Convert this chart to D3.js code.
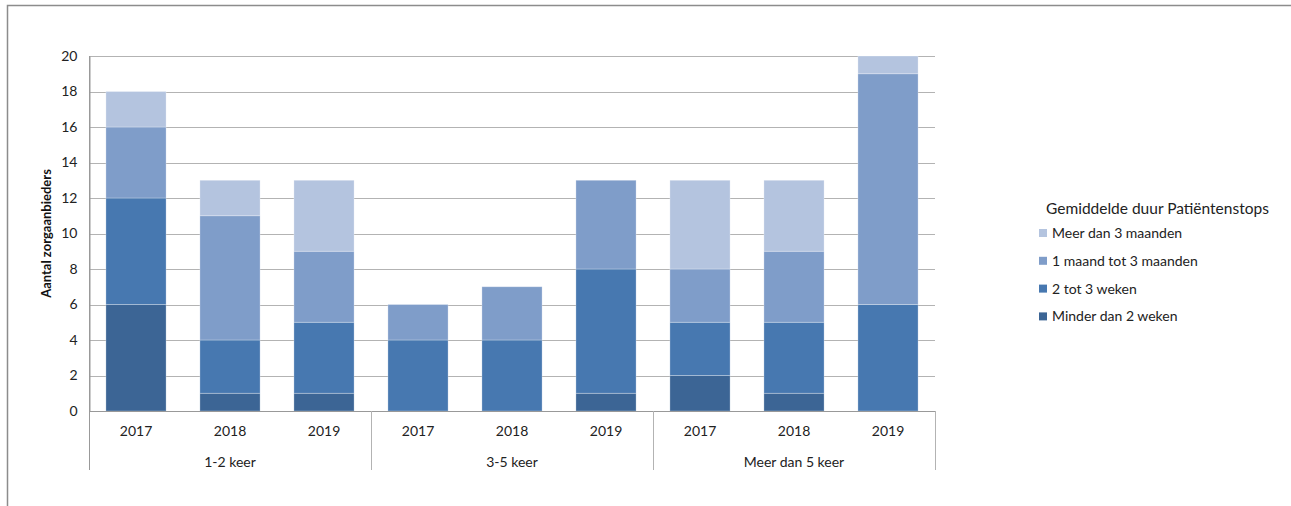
<!DOCTYPE html>
<html><head><meta charset="utf-8">
<script src="https://cdn.jsdelivr.net/npm/d3@7"></script>
<style>body{margin:0;background:#fff;} svg{display:block;font-family:Lato,"Open Sans",sans-serif;}</style>
</head><body>
<svg id="c" width="1291" height="506"></svg>
<script>
const groups = ["1-2 keer","3-5 keer","Meer dan 5 keer"];
const years = ["2017","2018","2019"];
const seriesNames = ["Minder dan 2 weken","2 tot 3 weken","1 maand tot 3 maanden","Meer dan 3 maanden"];
const seriesColors = ["#3C6595","#4778B0","#7F9DC9","#B4C4DF"];
// values per bar in order: 1-2 keer 2017..2019, 3-5 keer 2017..2019, Meer dan 5 keer 2017..2019
const minder2weken   = [6,1,1, 0,0,1, 2,1,0];
const tot3weken      = [6,3,4, 4,4,7, 3,4,6];
const maandTot3      = [4,7,4, 2,3,5, 3,4,13];
const meerDan3maand  = [2,2,4, 0,0,0, 5,4,1];
const yTicks = [0,2,4,6,8,10,12,14,16,18,20];

const svg = d3.select("#c");
const x0 = 89, x1 = 935, yTop = 56, yBot = 411;

const bars = [];
groups.forEach((g,gi)=>years.forEach((yr,yi)=>bars.push({key:g+"|"+yr, group:g, year:yr, i:gi*3+yi})));
const table = bars.map(b=>({key:b.key, s0:minder2weken[b.i], s1:tot3weken[b.i], s2:maandTot3[b.i], s3:meerDan3maand[b.i]}));

const x = d3.scaleBand().domain(bars.map(b=>b.key)).range([x0,x1]).paddingInner(0.36).paddingOuter(0.18);
const y = d3.scaleLinear().domain([0,20]).range([yBot,yTop]);

// frame
svg.append("path").attr("d","M7.5,506 V5.5 H1291").attr("fill","none").attr("stroke","#8c8c8c").attr("stroke-width",1.5);

// gridlines
svg.append("g").selectAll("line").data(yTicks.filter(t=>t>0)).join("line")
  .attr("x1",x0).attr("x2",x1).attr("y1",d=>Math.round(y(d))+0.5).attr("y2",d=>Math.round(y(d))+0.5)
  .attr("stroke","#b3b3b3").attr("stroke-width",1);

// stacked bars
const stack = d3.stack().keys(["s0","s1","s2","s3"]);
const stacked = stack(table);
svg.append("g").selectAll("g").data(stacked).join("g")
  .attr("fill",(d,i)=>seriesColors[i])
  .selectAll("rect").data(d=>d.filter(p=>p[1]-p[0]>0)).join("rect")
  .attr("x",d=>x(d.data.key)).attr("width",x.bandwidth())
  .attr("y",d=>y(d[1])).attr("height",d=>y(d[0])-y(d[1]))
  .attr("stroke","rgba(255,255,255,0.35)").attr("stroke-width",0.8);

// y axis
const yAxis = d3.axisLeft(y).tickValues(yTicks).tickSize(0).tickPadding(12);
const ya = svg.append("g").attr("transform",`translate(${x0+0.5},0)`).call(yAxis);
ya.select(".domain").attr("stroke","#999");
ya.selectAll("text").attr("font-size",14).attr("fill","#222").attr("font-family","Lato,'Open Sans',sans-serif");
svg.append("line").attr("x1",x0+0.5).attr("x2",x0+0.5).attr("y1",yTop).attr("y2",470).attr("stroke","#999");

// x axis baseline
svg.append("line").attr("x1",x0).attr("x2",x1).attr("y1",yBot+0.5).attr("y2",yBot+0.5).attr("stroke","#999");

// year labels via axis
const xAxis = d3.axisBottom(x).tickSize(0).tickPadding(15).tickFormat(k=>k.split("|")[1]);
const xa = svg.append("g").attr("transform",`translate(0,${yBot})`).call(xAxis);
xa.select(".domain").remove();
xa.selectAll("text").attr("font-size",14).attr("fill","#222").attr("font-family","Lato,'Open Sans',sans-serif");

// group separators and labels
const gScale = d3.scaleBand().domain(groups).range([x0,x1]);
svg.append("g").selectAll("line").data(groups.slice(1).concat(["end"])).join("line")
  .attr("x1",(d,i)=>Math.round(gScale(groups[i])+gScale.bandwidth())+0.5)
  .attr("x2",(d,i)=>Math.round(gScale(groups[i])+gScale.bandwidth())+0.5)
  .attr("y1",yBot).attr("y2",470).attr("stroke","#b3b3b3");
svg.append("g").selectAll("text").data(groups).join("text")
  .attr("x",d=>gScale(d)+gScale.bandwidth()/2).attr("y",467)
  .attr("text-anchor","middle").attr("font-size",14).attr("fill","#222").text(d=>d);

// y axis title
svg.append("text").attr("transform",`translate(51,${(yTop+yBot)/2}) rotate(-90)`)
  .attr("text-anchor","middle").attr("font-size",13).attr("font-weight","bold").attr("fill","#111")
  .text("Aantal zorgaanbieders");

// legend
const lg = svg.append("g");
lg.append("text").attr("x",1046).attr("y",214).attr("font-size",15.5).attr("fill","#222").text("Gemiddelde duur Patiëntenstops");
const order = [3,2,1,0];
order.forEach((si,k)=>{
  const cy = 233 + k*27.8;
  lg.append("rect").attr("x",1039).attr("y",cy-4).attr("width",8).attr("height",8).attr("fill",seriesColors[si]);
  lg.append("text").attr("x",1052).attr("y",cy+5).attr("font-size",14).attr("fill","#222").text(seriesNames[si]);
});
</script>
</body></html>
